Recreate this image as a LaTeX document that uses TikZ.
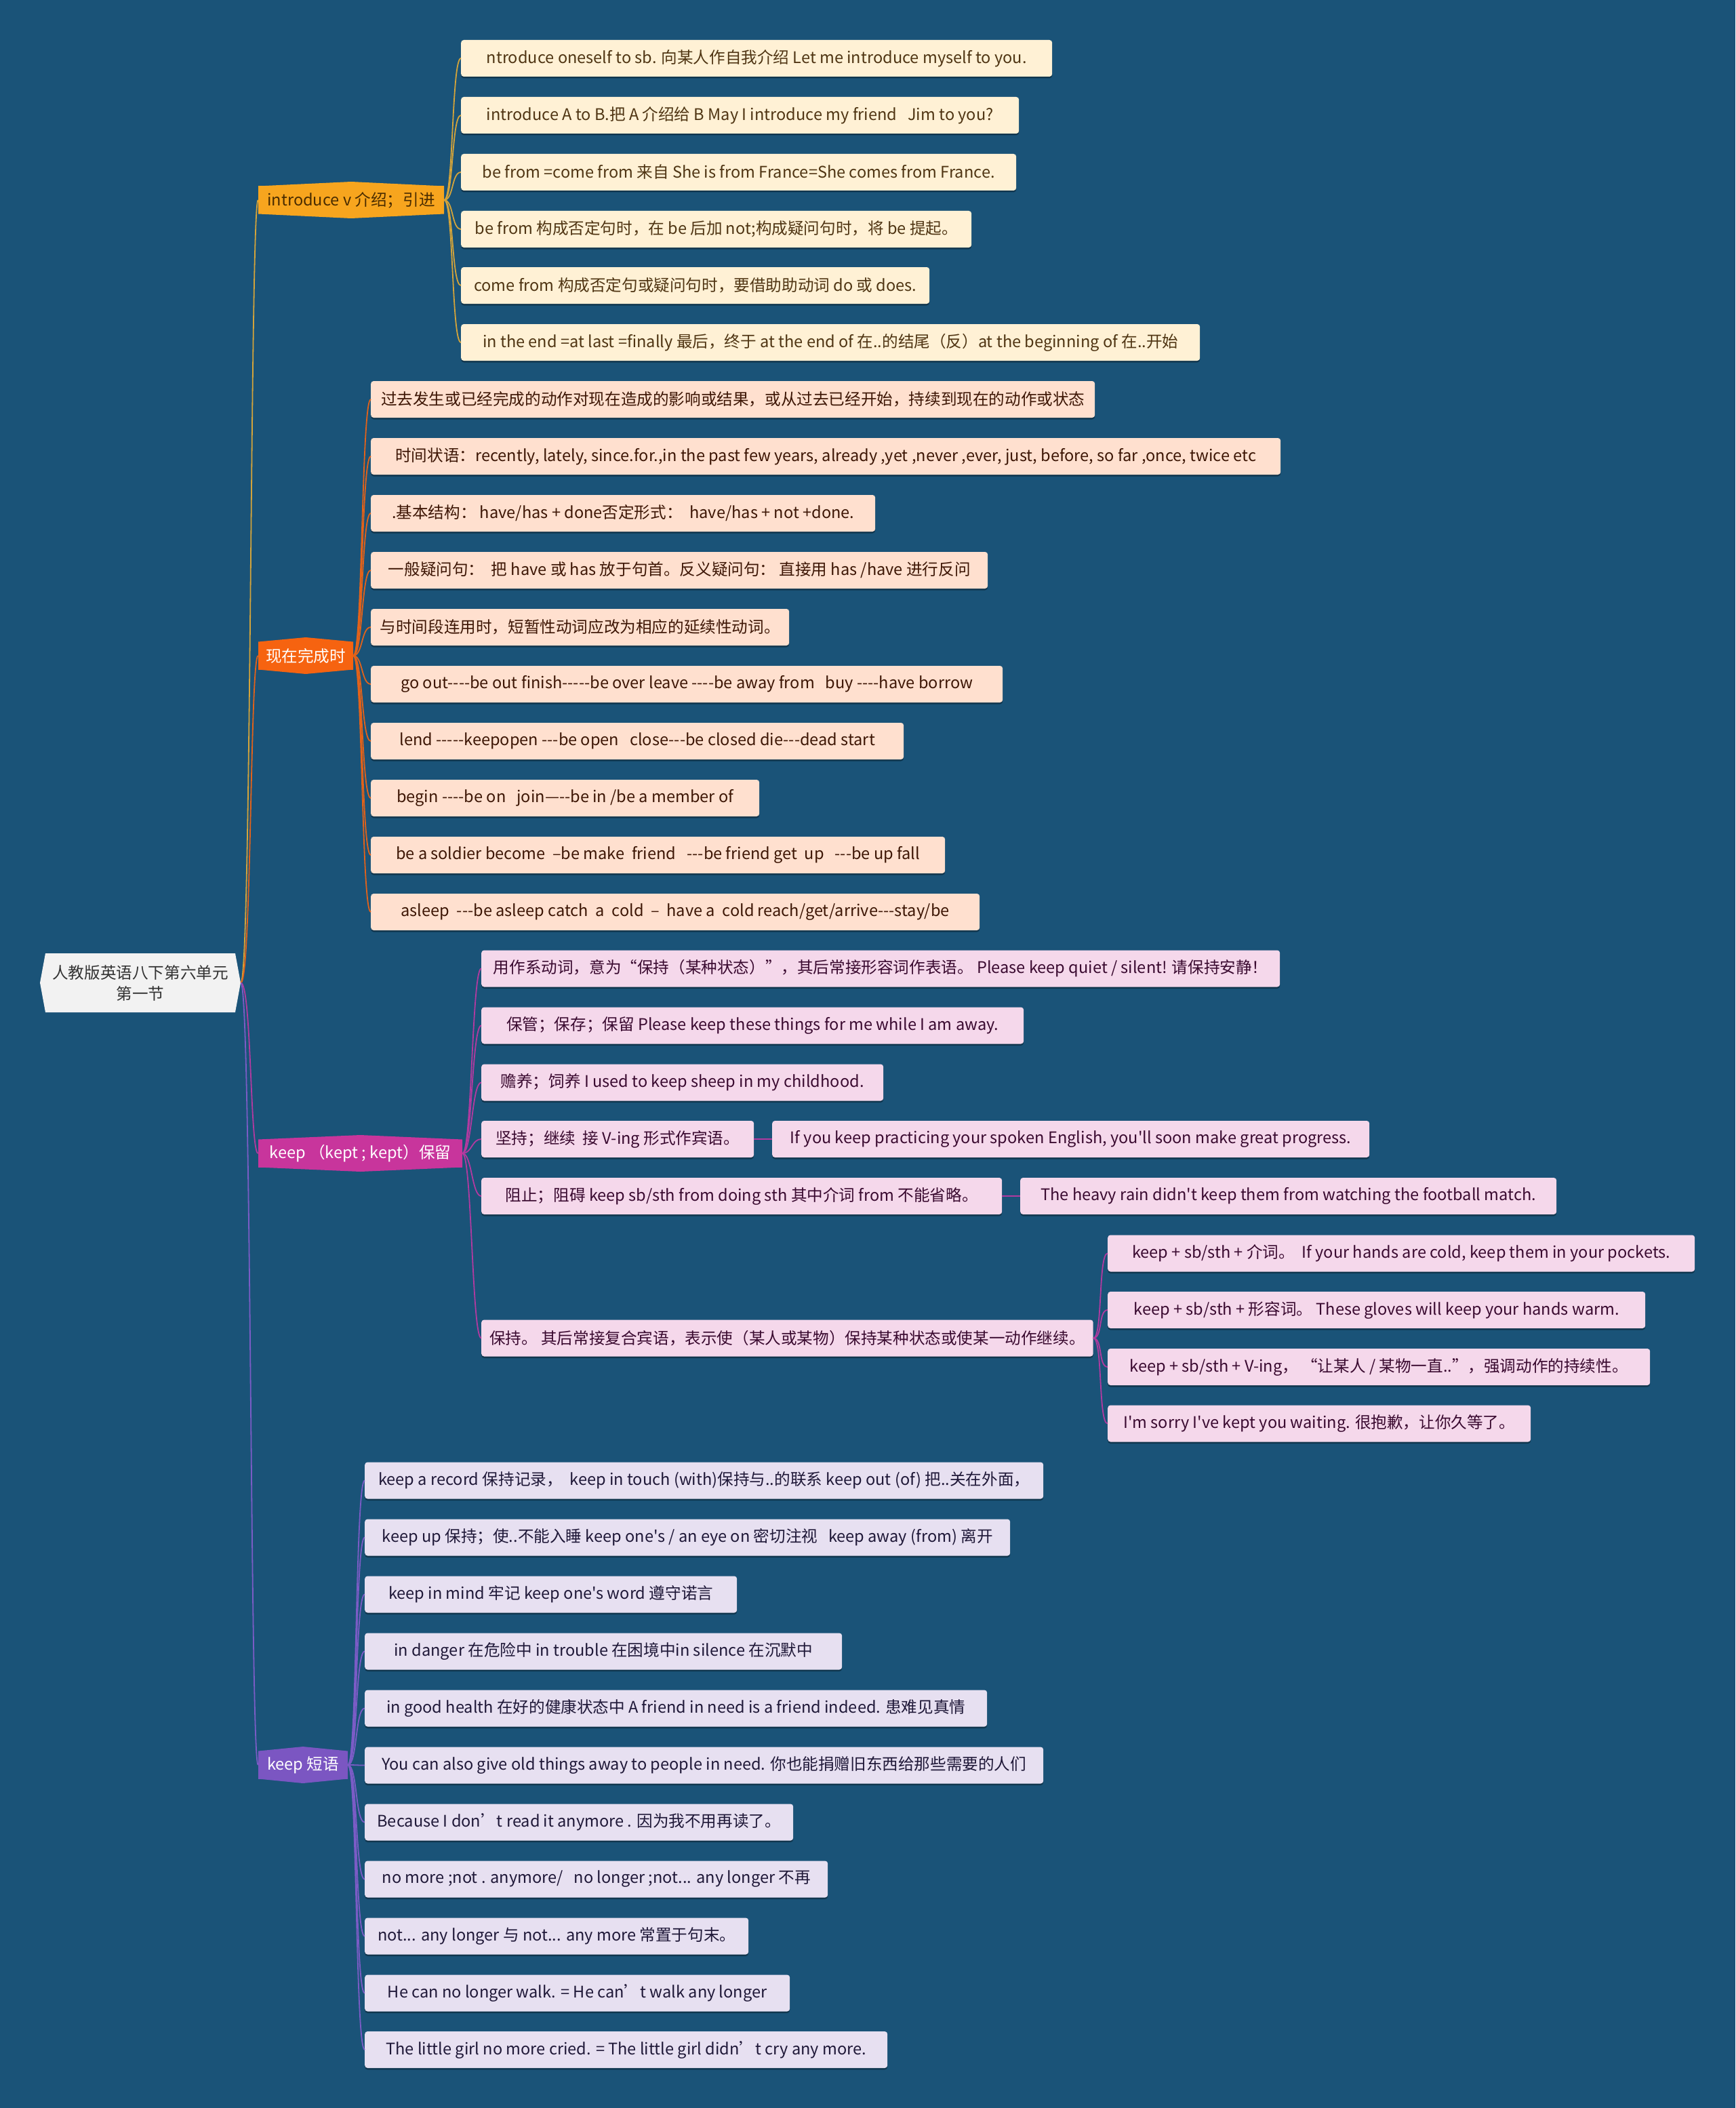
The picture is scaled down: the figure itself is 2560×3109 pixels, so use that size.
\documentclass[tikz,border=0pt]{standalone}
\usepackage{fontspec}
\setmainfont{Noto Sans CJK SC}[Ligatures=TeXOff]
\usetikzlibrary{shadows}
\definecolor{bgc}{HTML}{1A5378}
\definecolor{rootfill}{HTML}{F2F2F2}
\definecolor{roottext}{HTML}{333333}
\definecolor{brAfill}{HTML}{F7A51E}
\definecolor{brAtext}{HTML}{4A2C00}
\definecolor{leafAfill}{HTML}{FFF1D5}
\definecolor{leafAtext}{HTML}{4F3513}
\definecolor{lineAc}{HTML}{D4A43A}
\definecolor{brBfill}{HTML}{F66310}
\definecolor{leafBfill}{HTML}{FFE0CF}
\definecolor{leafBtext}{HTML}{3D1605}
\definecolor{lineBc}{HTML}{E2621A}
\definecolor{brCfill}{HTML}{C8359C}
\definecolor{leafCfill}{HTML}{F5D8EB}
\definecolor{leafCtext}{HTML}{3A0A30}
\definecolor{lineCc}{HTML}{B23AA0}
\definecolor{brDfill}{HTML}{7B56C2}
\definecolor{leafDfill}{HTML}{E7E0F1}
\definecolor{leafDtext}{HTML}{1F1838}
\definecolor{lineDc}{HTML}{7B5CC6}
\newcommand\branchnode[6]{% name, left, right, yc, style, text
  \fill[#5] (#2,#4-20.5) -- ({(#2+#3)/2},#4-27) -- (#3,#4-20.5) -- (#3,#4+20.5) -- ({(#2+#3)/2},#4+27) -- (#2,#4+20.5) -- cycle;
  \node[brlabel,#5,minimum width={#3-#2}] (#1) at ({(#2+#3)/2},#4) {#6};
}
\begin{document}
\begin{tikzpicture}[x=1pt,y=-1pt,
  txt/.style={font=\fontsize{23.6}{31}\selectfont},
  brlabel/.style={txt, inner sep=0pt, minimum height=41pt},
  brA/.style={fill=brAfill, text=brAtext},
  brB/.style={fill=brBfill, text=white},
  brC/.style={fill=brCfill, text=white},
  brD/.style={fill=brDfill, text=white},
  leaf/.style={txt, anchor=west, rounded corners=4pt, minimum height=54pt, inner xsep=12pt,
    drop shadow={shadow xshift=0pt, shadow yshift=-2.5pt, fill=black, opacity=0.35}},
  leafA/.style={leaf, fill=leafAfill, text=leafAtext},
  leafB/.style={leaf, fill=leafBfill, text=leafBtext},
  leafC/.style={leaf, fill=leafCfill, text=leafCtext},
  leafD/.style={leaf, fill=leafDfill, text=leafDtext},
  conn/.style={line width=1.8pt},
  lineA/.style={conn, draw=lineAc},
  lineB/.style={conn, draw=lineBc},
  lineC/.style={conn, draw=lineCc},
  lineD/.style={conn, draw=lineDc}]

\path[use as bounding box] (0,0) rectangle (2560,3109);
\fill[bgc] (0,0) rectangle (2560,3109);

% root
\fill[rootfill] (67,1406) -- (347,1406) -- (355,1449.5) -- (347,1493) -- (67,1493) -- (59,1449.5) -- cycle;
\node[txt, text=roottext, align=center, minimum width=296pt, minimum height=87pt, inner sep=0pt] (root) at (207,1449.5) {人教版英语八下第六单元\\第一节};

% branches
\branchnode{bA}{381}{655}{295}{brA}{introduce v 介绍；引进}
\branchnode{bB}{381}{521}{967}{brB}{现在完成时}
\branchnode{bC}{381}{682}{1701}{brC}{keep （kept ; kept）保留}
\branchnode{bD}{381}{513}{2603}{brD}{keep 短语}

% introduce children
\node[leafA, minimum width=872pt] (a1) at (680,86) {ntroduce oneself to sb. 向某人作自我介绍 Let me introduce myself to you.};
\node[leafA, minimum width=823pt] (a2) at (680,170) {introduce A to B.把 A 介绍给 B May I introduce my friend~~~Jim to you?};
\node[leafA, minimum width=819pt] (a3) at (680,254) {be from =come from 来自 She is from France=She comes from France.};
\node[leafA, minimum width=753pt] (a4) at (680,338) {be from 构成否定句时，在 be 后加 not;构成疑问句时，将 be 提起。};
\node[leafA, minimum width=691pt] (a5) at (680,421) {come from 构成否定句或疑问句时，要借助助动词 do 或 does.};
\node[leafA, minimum width=1090pt] (a6) at (680,505) {in the end =at last =finally 最后，终于 at the end of 在..的结尾（反）at the beginning of 在..开始};

% present perfect children
\node[leafB, minimum width=1068pt] (b1) at (547,589) {过去发生或已经完成的动作对现在造成的影响或结果，或从过去已经开始，持续到现在的动作或状态};
\node[leafB, minimum width=1342pt] (b2) at (547,673) {时间状语：recently, lately, since.for.,in the past few years, already ,yet ,never ,ever, just, before, so far ,once, twice etc};
\node[leafB, minimum width=744pt] (b3) at (547,757) {.基本结构：~have/has + done否定形式：~~have/has + not +done.};
\node[leafB, minimum width=910pt] (b4) at (547,841) {一般疑问句：~~把 have 或 has 放于句首。反义疑问句：~直接用 has /have 进行反问};
\node[leafB, minimum width=617pt] (b5) at (547,925) {与时间段连用时，短暂性动词应改为相应的延续性动词。};
\node[leafB, minimum width=932pt] (b6) at (547,1009) {go out----be out finish-----be over leave ----be away from~~~buy ----have borrow};
\node[leafB, minimum width=786pt] (b7) at (547,1093) {lend -----keepopen ---be open~~~close---be closed die---dead start};
\node[leafB, minimum width=573pt] (b8) at (547,1177) {begin ----be on~~~join—--be in /be a member of};
\node[leafB, minimum width=847pt] (b9) at (547,1261) {be a soldier become~~–be make~~friend~~~---be friend get~~up~~~---be up fall};
\node[leafB, minimum width=898pt] (b10) at (547,1345) {asleep~~---be asleep catch~~a~~cold~~–~~have a~~cold reach/get/arrive---stay/be};

% keep children
\node[leafC, minimum width=1178pt] (c1) at (710,1428.5) {用作系动词，意为“保持（某种状态）”，其后常接形容词作表语。 Please keep quiet / silent! 请保持安静！};
\node[leafC, minimum width=800pt] (c2) at (710,1512.5) {保管；保存；保留 Please keep these things for me while I am away.};
\node[leafC, minimum width=593pt] (c3) at (710,1596.5) {赡养；饲养 I used to keep sheep in my childhood.};
\node[leafC, minimum width=402pt] (c4) at (710,1680) {坚持；继续~~接 V-ing 形式作宾语。};
\node[leafC, minimum width=881pt] (c4x) at (1139,1680) {If you keep practicing your spoken English, you'll soon make great progress.};
\node[leafC, minimum width=768pt] (c5) at (710,1764) {阻止；阻碍 keep sb/sth from doing sth 其中介词 from 不能省略。};
\node[leafC, minimum width=791pt] (c5x) at (1505,1764) {The heavy rain didn't keep them from watching the football match.};
\node[leafC, minimum width=898pt] (c6) at (710,1973.5) {保持。 其后常接复合宾语，表示使（某人或某物）保持某种状态或使某一动作继续。};
\node[leafC, minimum width=866pt] (c6a) at (1634,1848.5) {keep + sb/sth + 介词。~~If your hands are cold, keep them in your pockets.};
\node[leafC, minimum width=793pt] (c6b) at (1634,1932) {keep + sb/sth + 形容词。 These gloves will keep your hands warm.};
\node[leafC, minimum width=800pt] (c6c) at (1634,2016) {keep + sb/sth + V-ing，~“让某人 / 某物一直..”，强调动作的持续性。};
\node[leafC, minimum width=624pt] (c6d) at (1634,2099.5) {I'm sorry I've kept you waiting. 很抱歉，让你久等了。};

% keep phrases children
\node[leafD, minimum width=1001pt] (d1) at (538,2183.5) {keep a record 保持记录，~~keep in touch (with)保持与..的联系 keep out (of) 把..关在外面，};
\node[leafD, minimum width=952pt] (d2) at (538,2267.5) {keep up 保持；使..不能入睡 keep one's / an eye on 密切注视~~~keep away (from) 离开};
\node[leafD, minimum width=549pt] (d3) at (538,2351.5) {keep in mind 牢记 keep one's word 遵守诺言};
\node[leafD, minimum width=704pt] (d4) at (538,2435.5) {in danger 在危险中 in trouble 在困境中in silence 在沉默中};
\node[leafD, minimum width=918pt] (d5) at (538,2519.5) {in good health 在好的健康状态中 A friend in need is a friend indeed. 患难见真情};
\node[leafD, minimum width=1001pt] (d6) at (538,2603.5) {You can also give old things away to people in need. 你也能捐赠旧东西给那些需要的人们};
\node[leafD, minimum width=632pt] (d7) at (538,2687.5) {Because I don’t read it anymore . 因为我不用再读了。};
\node[leafD, minimum width=683pt] (d8) at (538,2771.5) {no more ;not . anymore/~~~no longer ;not... any longer 不再};
\node[leafD, minimum width=566pt] (d9) at (538,2855.5) {not... any longer 与 not... any more 常置于句末。};
\node[leafD, minimum width=627pt] (d10) at (538,2939.5) {He can no longer walk. = He can’t walk any longer};
\node[leafD, minimum width=771pt] (d11) at (538,3023) {The little girl no more cried. = The little girl didn’t cry any more.};

% root -> branches
\draw[lineA] (root.east) .. controls +(16,0) and +(-12,0) .. (bA.west);
\draw[lineB] (root.east) .. controls +(16,0) and +(-12,0) .. (bB.west);
\draw[lineC] (root.east) .. controls +(16,0) and +(-12,0) .. (bC.west);
\draw[lineD] (root.east) .. controls +(16,0) and +(-12,0) .. (bD.west);

% branch -> leaves
\foreach \i in {1,...,6} \draw[lineA] (bA.east) .. controls +(14,0) and +(-14,0) .. (a\i.west);
\foreach \i in {1,...,10} \draw[lineB] (bB.east) .. controls +(14,0) and +(-14,0) .. (b\i.west);
\foreach \i in {1,...,6} \draw[lineC] (bC.east) .. controls +(14,0) and +(-14,0) .. (c\i.west);
\foreach \i in {1,...,11} \draw[lineD] (bD.east) .. controls +(14,0) and +(-14,0) .. (d\i.west);
\draw[lineC] (c4.east) -- (c4x.west);
\draw[lineC] (c5.east) -- (c5x.west);
\foreach \s in {a,b,c,d} \draw[lineC] (c6.east) .. controls +(14,0) and +(-14,0) .. (c6\s.west);

\end{tikzpicture}
\end{document}
